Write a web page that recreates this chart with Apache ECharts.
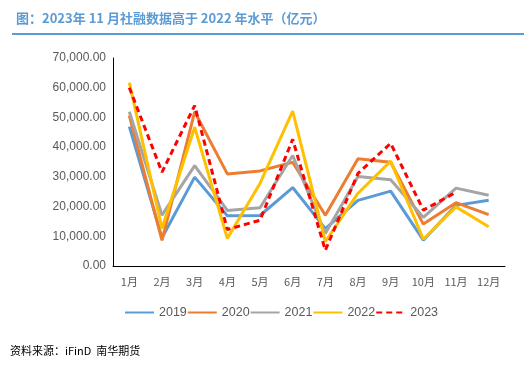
<!DOCTYPE html>
<html><head><meta charset="utf-8">
<script src="https://cdn.jsdelivr.net/npm/echarts@6/dist/echarts.min.js"></script>
<style>html,body{margin:0;padding:0;background:#fff}#c{width:524px;height:372px}</style>
</head><body><div id="c"></div>
<script>
const months = ['1月','2月','3月','4月','5月','6月','7月','8月','9月','10月','11月','12月'];
const s2019 = [46900, 9500, 29900, 16900, 17000, 26400, 12600, 22100, 25200, 8700, 20400, 22100];
const s2020 = [50600, 8600, 51900, 31000, 32000, 34900, 17100, 36100, 34900, 14100, 21300, 17300];
const s2021 = [51900, 17100, 33800, 18700, 19600, 37200, 10900, 30100, 29000, 16400, 26200, 23800];
const s2022 = [61700, 12600, 46700, 9300, 27800, 52100, 8200, 24500, 35300, 9000, 19900, 13200];
const s2023 = [60000, 31600, 54000, 12300, 15400, 42600, 5300, 31200, 41300, 18800, 24800, null];
const names = ['2019','2020','2021','2022','2023'];
const colors = ['#5B9BD5','#ED7D31','#A5A5A5','#FFC000','#FF0000'];
const data = [s2019, s2020, s2021, s2022, s2023];

const chart = echarts.init(document.getElementById('c'));
chart.setOption({
  animation: false,
  title: {
    text: '图：2023年 11 月社融数据高于 2022 年水平（亿元）',
    left: 11, top: 7,
    textStyle: {color: '#5B9BD5', fontSize: 13, fontWeight: 'bold', fontFamily: 'Noto Sans CJK SC'}
  },
  graphic: [
    {type: 'rect', shape: {x: 12, y: 33, width: 512, height: 2}, style: {fill: '#5B9BD5'}},
    {type: 'text', left: 10, top: 345, style: {text: '资料来源：iFinD  南华期货', fill: '#000', font: '11px "Noto Sans CJK SC"'}}
  ],
  grid: {left: 113, right: 19, top: 58, bottom: 106},
  legend: {
    top: 301, left: 119,
    itemWidth: 29, itemHeight: 14, itemGap: 0,
    itemStyle: {opacity: 0},
    textStyle: {color: '#595959', fontSize: 12.5, fontFamily: 'Liberation Sans'},
    data: names
  },
  xAxis: {
    type: 'category', data: months, boundaryGap: true,
    axisLine: {lineStyle: {color: '#000', width: 1}},
    axisTick: {show: false},
    axisLabel: {color: '#595959', fontSize: 11, margin: 10, interval: 0, fontFamily: 'Noto Sans CJK SC'}
  },
  yAxis: {
    type: 'value', min: 0, max: 70000, interval: 10000,
    axisLine: {show: true, lineStyle: {color: '#000', width: 1}},
    axisTick: {show: false},
    splitLine: {show: false},
    axisLabel: {color: '#595959', fontSize: 12, margin: 7, fontFamily: 'Liberation Sans',
      formatter: v => v.toLocaleString('en-US', {minimumFractionDigits: 2, maximumFractionDigits: 2})}
  },
  series: data.map((d,i)=>({
    name: names[i], type: 'line', data: d, symbol: 'none',
    lineStyle: {color: colors[i], width: 3, type: i===4 ? [6,4] : 'solid'},
    itemStyle: {color: colors[i]}
  }))
});
</script></body></html>
